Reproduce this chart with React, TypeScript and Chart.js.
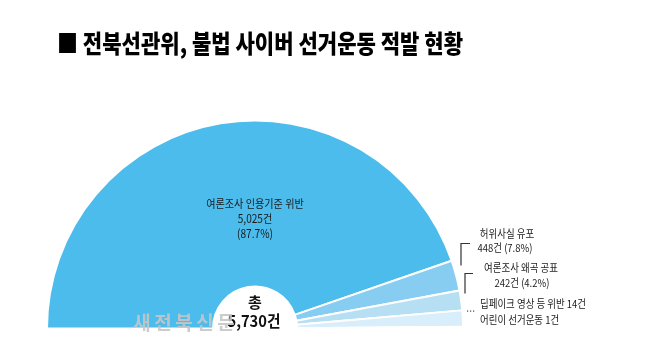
import React, { useEffect, useRef } from 'react';
import { Chart, registerables } from 'chart.js';

Chart.register(...registerables);

const TITLE = '■ 전북선관위, 불법 사이버 선거운동 적발 현황';
const categories = ['여론조사 인용기준 위반', '허위사실 유포', '여론조사 왜곡 공표', '딥페이크 영상 등 위반', '어린이 선거운동'];
const counts = [5025, 448, 242, 14, 1];
const shares = ['87.7%', '7.8%', '4.2%', '', ''];
// slice sizes as they are drawn in the (non-proportional) infographic, in degrees
const drawnAngles = [161, 8.5, 5.5, 4.5, 0.5];
const TOTAL_PREFIX = '총';
const totalCount = 5730;
const WATERMARK = '새전북신문';
const colors = ['#4BBCEB', '#86CDF1', '#B7DFF4', '#D8EEFA', '#E8F5FC'];

const KR = '"Noto Sans CJK KR", "Noto Sans", sans-serif';
const fmt = (n: number) => n.toLocaleString('en-US');

function drawText(
  ctx: CanvasRenderingContext2D,
  text: string,
  x: number,
  y: number,
  font: string,
  color: string,
  align: 'left' | 'center' | 'right',
  sx: number
) {
  ctx.save();
  ctx.font = font;
  ctx.fillStyle = color;
  ctx.textBaseline = 'middle';
  ctx.textAlign = 'left';
  const w = ctx.measureText(text).width * sx;
  const left = align === 'center' ? x - w / 2 : align === 'right' ? x - w : x;
  ctx.translate(left, y);
  ctx.scale(sx, 1);
  ctx.fillText(text, 0, 0);
  ctx.restore();
}

const overlayPlugin = {
  id: 'overlay',
  afterDraw(chart: any) {
    const ctx: CanvasRenderingContext2D = chart.ctx;
    const arc = chart.getDatasetMeta(0).data[0];
    const cx = arc.x;
    const cy = arc.y;

    // title, condensed to fit
    const tf = `900 25px ${KR}`;
    ctx.save();
    ctx.font = tf;
    const tw = ctx.measureText(TITLE).width;
    ctx.restore();
    drawText(ctx, TITLE, 57, 43, tf, '#000', 'left', 406 / tw);

    const lf = `11.5px ${KR}`;
    const sf = `11px ${KR}`;
    const dark = '#1a1a1a';

    // main slice label
    drawText(ctx, categories[0], cx, cy - 125, lf, dark, 'center', 0.88);
    drawText(ctx, `${fmt(counts[0])}건`, cx, cy - 110, lf, dark, 'center', 0.88);
    drawText(ctx, `(${shares[0]})`, cx, cy - 95, lf, dark, 'center', 0.88);

    // right-side labels
    drawText(ctx, categories[1], cx + 252, cy - 95, sf, dark, 'center', 0.86);
    drawText(ctx, `${fmt(counts[1])}건 (${shares[1]})`, cx + 250, cy - 81, sf, dark, 'center', 0.86);
    drawText(ctx, categories[2], cx + 266, cy - 61, sf, dark, 'center', 0.86);
    drawText(ctx, `${fmt(counts[2])}건 (${shares[2]})`, cx + 267, cy - 46, sf, dark, 'center', 0.86);
    drawText(ctx, `${categories[3]} ${fmt(counts[3])}건`, cx + 225, cy - 25, sf, dark, 'left', 0.86);
    drawText(ctx, `${categories[4]} ${fmt(counts[4])}건`, cx + 225, cy - 9, sf, dark, 'left', 0.86);

    // brackets
    ctx.save();
    ctx.strokeStyle = '#333';
    ctx.lineWidth = 1.2;
    ctx.beginPath();
    ctx.moveTo(cx + 215, cy - 85);
    ctx.lineTo(cx + 206, cy - 85);
    ctx.lineTo(cx + 206, cy - 63);
    ctx.moveTo(cx + 218, cy - 55);
    ctx.lineTo(cx + 210, cy - 55);
    ctx.lineTo(cx + 210, cy - 35);
    ctx.stroke();
    ctx.fillStyle = '#444';
    for (let i = 0; i < 3; i++) ctx.fillRect(cx + 212 + i * 3, cy - 18, 1.2, 1.2);
    ctx.restore();

    // total in the centre
    drawText(ctx, TOTAL_PREFIX, cx, cy - 26, `bold 15px ${KR}`, '#111', 'center', 1);
    drawText(ctx, `${fmt(totalCount)}건`, cx - 1, cy - 8, `bold 16px ${KR}`, '#111', 'center', 0.92);

    // watermark
    ctx.save();
    ctx.font = `bold 19px ${KR}`;
    ctx.fillStyle = 'rgba(196,198,200,0.9)';
    ctx.textBaseline = 'middle';
    ctx.textAlign = 'center';
    const chars = Array.from(WATERMARK);
    chars.forEach((ch, i) => ctx.fillText(ch, cx - 113 + i * 21, cy - 6));
    ctx.restore();
  },
};

export default function App() {
  const ref = useRef<HTMLCanvasElement | null>(null);
  useEffect(() => {
    document.body.style.margin = '0';
    const canvas = ref.current!;
    const chart = new Chart(canvas, {
      type: 'doughnut',
      data: {
        labels: categories,
        datasets: [
          {
            data: drawnAngles,
            backgroundColor: colors,
            borderColor: '#ffffff',
            borderWidth: 2,
          },
        ],
      },
      options: {
        animation: false,
        responsive: false,
        events: [],
        circumference: 180,
        rotation: -90,
        radius: 208,
        cutout: '20.2%',
        layout: { padding: { left: 48, right: 188, top: 121, bottom: 25 } },
        plugins: {
          legend: { display: false },
          tooltip: { enabled: false },
          title: { display: false },
        },
      } as any,
      plugins: [overlayPlugin],
    });
    return () => chart.destroy();
  }, []);
  return (
    <div style={{ position: 'fixed', left: 0, top: 0, width: 650, height: 353, background: '#fff' }}>
      <canvas ref={ref} width={650} height={353} style={{ display: 'block', width: 650, height: 353 }} />
    </div>
  );
}
